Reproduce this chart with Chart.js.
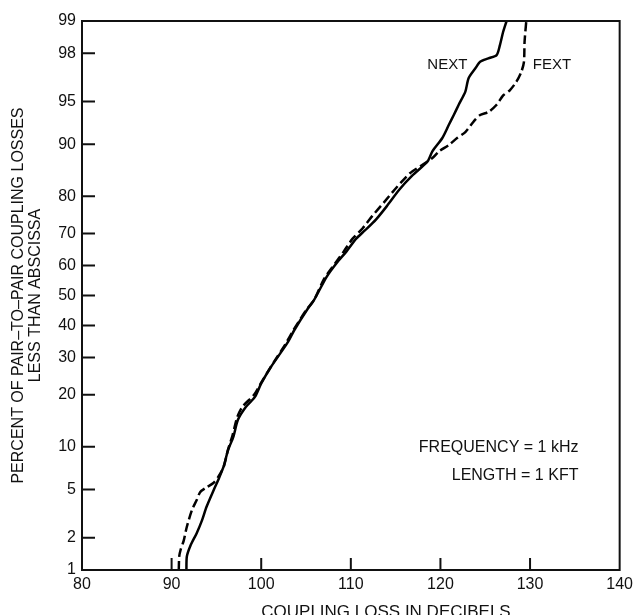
<!DOCTYPE html>
<html lang="en">
<head>
<meta charset="utf-8" />
<title>Coupling loss distribution</title>
<style>
*{box-sizing:border-box;margin:0;padding:0}
body{background:#fff;font-family:"Liberation Sans",Arial,Helvetica,sans-serif}
.chart-wrapper{width:638px;height:615px;position:relative}
</style>
</head>
<body>
<div class="chart-wrapper"><canvas id="cplChart"></canvas></div>

<script src="https://cdn.jsdelivr.net/npm/chart.js@4.4.1/dist/chart.umd.min.js"></script>
<script>
/* ─── data (dB, percent) ───────────────────────────────── */
const NEXT_DB  = [91.65,91.7,92.1,92.8,93.4,93.9,94.7,95.2,95.8,96.3,96.9,97.4,98.3,99.3,100.0,101.1,102.9,103.7,105.1,105.9,107.3,108.4,109.5,110.6,111.6,112.8,114.0,115.4,116.9,118.56,119.1,120.21,120.94,121.49,122.04,122.78,123.14,123.9,124.43,125.35,126.27,126.64,127.0,127.38];
const NEXT_PCT = [1,1.35,1.7,2.2,2.85,3.67,4.97,5.9,7.34,9.5,11.6,14.6,17.3,19.5,22.8,27.3,34.3,38.5,45.1,48.5,56.3,60.8,64.5,68.5,71,74,77.5,81.5,84.6,87.2,88.9,90.9,92.6,93.7,94.7,95.8,96.72,97.29,97.62,97.78,97.92,98.31,98.73,99];

const FEXT_DB  = [90.8,90.85,91.0,91.36,91.7,92.27,92.8,93.2,93.9,94.66,95.2,95.8,96.3,96.8,97.3,97.9,99.2,100.0,101.0,102.7,103.6,105.0,105.9,107.0,108.2,109.2,110.2,111.3,112.4,113.7,115.1,116.6,118.0,119.1,119.84,120.94,121.86,122.78,123.69,124.43,125.35,126.27,127.0,127.74,128.48,129.03,129.32,129.39,129.58];
const FEXT_PCT = [1,1.35,1.55,1.9,2.5,3.45,4.15,4.8,5.2,5.6,6.2,7.3,9.6,11.8,15,17.3,20,23,27,34,38.5,45,48.5,55.5,60.5,64.5,68.5,71.5,75,78.5,82,85,86.6,87.8,88.9,89.9,90.9,91.7,92.96,93.7,94.0,94.7,95.5,95.9,96.5,97.1,97.62,98.43,99];

const X_TICKS   = [80,90,100,110,120,130,140];
const PCT_TICKS = [1,2,5,10,20,30,40,50,60,70,80,90,95,98,99];

/* inverse normal cdf (Acklam) – turns percent into probability-paper position */
function probit(p){
    const a=[-39.69683028665376,220.9460984245205,-275.9285104469687,138.3577518672690,-30.66479806614716,2.506628277459239];
    const b=[-54.47609879822406,161.5858368580409,-155.6989798598866,66.80131188771972,-13.28068155288572];
    const c=[-0.007784894002430293,-0.3223964580411365,-2.400758277161838,-2.549732539343734,4.374664141464968,2.938163982698783];
    const d=[0.007784695709041462,0.3224671290700398,2.445134137142996,3.754408661907416];
    const lo=0.02425;
    let q,r;
    if(p<lo){
        q=Math.sqrt(-2*Math.log(p));
        return (((((c[0]*q+c[1])*q+c[2])*q+c[3])*q+c[4])*q+c[5])/((((d[0]*q+d[1])*q+d[2])*q+d[3])*q+1);
    }
    if(p<=1-lo){
        q=p-0.5; r=q*q;
        return (((((a[0]*r+a[1])*r+a[2])*r+a[3])*r+a[4])*r+a[5])*q/(((((b[0]*r+b[1])*r+b[2])*r+b[3])*r+b[4])*r+1);
    }
    q=Math.sqrt(-2*Math.log(1-p));
    return -(((((c[0]*q+c[1])*q+c[2])*q+c[3])*q+c[4])*q+c[5])/((((d[0]*q+d[1])*q+d[2])*q+d[3])*q+1);
}
const zOf = pct => probit(pct/100);
const toPoints = (xs,ps) => xs.map((x,i)=>({x, y:zOf(ps[i])}));

const FONT = '"Liberation Sans",Arial,Helvetica,sans-serif';
const INK  = '#111';

/* box, inward ticks, titles and notes */
const decor = {
    id:'decor',
    afterDraw(chart){
        const {ctx, chartArea:ca, scales:{x,y}} = chart;
        ctx.save();
        ctx.strokeStyle = INK;
        ctx.lineWidth = 2;
        ctx.strokeRect(ca.left, ca.top, ca.right-ca.left, ca.bottom-ca.top);

        // inward tick marks
        ctx.beginPath();
        X_TICKS.slice(1,-1).forEach(v=>{
            const px = x.getPixelForValue(v);
            ctx.moveTo(px, ca.bottom); ctx.lineTo(px, ca.bottom-12);
        });
        PCT_TICKS.slice(1,-1).forEach(p=>{
            const py = y.getPixelForValue(zOf(p));
            ctx.moveTo(ca.left, py); ctx.lineTo(ca.left+13, py);
        });
        ctx.stroke();

        ctx.fillStyle = INK;
        // x title
        ctx.font = '17px '+FONT;
        ctx.textAlign = 'center';
        ctx.textBaseline = 'alphabetic';
        ctx.fillText('COUPLING LOSS IN DECIBELS', 386, 617);

        // y title, two lines
        const cy = (ca.top+ca.bottom)/2;
        [['PERCENT OF PAIR\u2013TO\u2013PAIR COUPLING LOSSES',19],['LESS THAN ABSCISSA',36]].forEach(([t,cx])=>{
            ctx.save();
            ctx.font = '16px '+FONT;
            ctx.textAlign = 'center';
            ctx.textBaseline = 'middle';
            ctx.translate(cx, cy); ctx.rotate(-Math.PI/2);
            ctx.fillText(t, 0, 0);
            ctx.restore();
        });

        // curve labels
        ctx.font = '15px '+FONT;
        ctx.textBaseline = 'middle';
        ctx.textAlign = 'right';
        ctx.fillText('NEXT', x.getPixelForValue(123.0), y.getPixelForValue(zOf(97.46)));
        ctx.textAlign = 'left';
        ctx.fillText('FEXT', x.getPixelForValue(130.3), y.getPixelForValue(zOf(97.46)));

        // conditions note
        ctx.font = '16px '+FONT;
        ctx.textAlign = 'right';
        ctx.fillText('FREQUENCY = 1 kHz', x.getPixelForValue(135.4), y.getPixelForValue(zOf(9.8)));
        ctx.fillText('LENGTH = 1 KFT',    x.getPixelForValue(135.4), y.getPixelForValue(zOf(6.4)));
        ctx.restore();
    }
};

new Chart(document.getElementById('cplChart'),{
    type:'line',
    data:{
        datasets:[
            {label:'NEXT', data:toPoints(NEXT_DB,NEXT_PCT), borderColor:'#000', borderWidth:2.5,
             pointRadius:0, tension:0.25, fill:false},
            {label:'FEXT', data:toPoints(FEXT_DB,FEXT_PCT), borderColor:'#000', borderWidth:2.5,
             borderDash:[9,4], pointRadius:0, tension:0.25, fill:false}
        ]
    },
    options:{
        responsive:true,
        maintainAspectRatio:false,
        animation:false,
        layout:{padding:{top:21,right:15,left:0,bottom:0}},
        plugins:{legend:{display:false}, tooltip:{enabled:false}},
        scales:{
            x:{
                type:'linear', min:80, max:140,
                afterBuildTicks:s=>{ s.ticks = X_TICKS.map(v=>({value:v})); },
                afterFit:s=>{ s.height = 45; },
                grid:{display:false, drawTicks:false},
                border:{display:false},
                ticks:{color:INK, padding:5, font:{family:FONT,size:16}, maxRotation:0}
            },
            y:{
                type:'linear', min:zOf(1), max:zOf(99),
                afterBuildTicks:s=>{ s.ticks = PCT_TICKS.map(p=>({value:zOf(p)})); },
                afterFit:s=>{ s.width = 82; },
                grid:{display:false, drawTicks:false},
                border:{display:false},
                ticks:{color:INK, padding:6, font:{family:FONT,size:16},
                       callback:(v,i)=>String(PCT_TICKS[i])}
            }
        }
    },
    plugins:[decor]
});
</script>
</body>
</html>
